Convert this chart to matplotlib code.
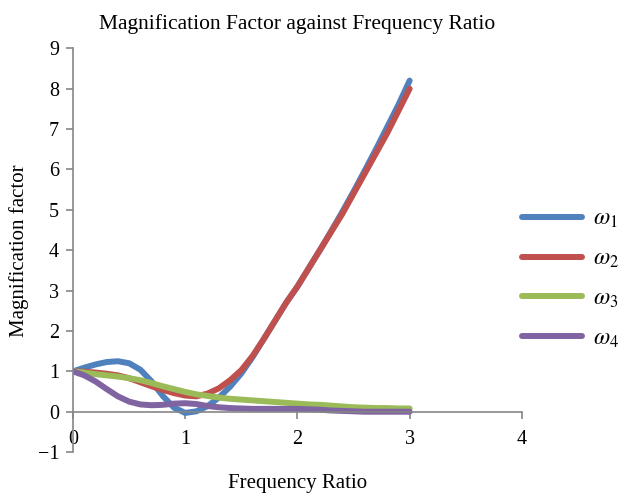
import matplotlib.pyplot as plt
import numpy as np

# frequency ratio samples
ratio = [0.0, 0.1, 0.2, 0.3, 0.4, 0.5, 0.6, 0.7, 0.8, 0.9, 1.0,
         1.1, 1.2, 1.3, 1.4, 1.5, 1.6, 1.7, 1.8, 1.9, 2.0,
         2.1, 2.2, 2.3, 2.4, 2.5, 2.6, 2.7, 2.8, 2.9, 3.0]

# magnification factor, one list per mode
w1 = [1.0, 1.09, 1.17, 1.23, 1.25, 1.2, 1.04, 0.75, 0.39, 0.1, -0.03,
      0.01, 0.14, 0.35, 0.62, 0.95, 1.35, 1.8, 2.25, 2.7, 3.1,
      3.55, 4.0, 4.47, 4.95, 5.45, 5.97, 6.5, 7.05, 7.6, 8.2]
w2 = [1.0, 0.99, 0.97, 0.94, 0.9, 0.83, 0.73, 0.63, 0.54, 0.46, 0.4,
      0.38, 0.45, 0.58, 0.78, 1.03, 1.38, 1.8, 2.25, 2.7, 3.1,
      3.55, 4.0, 4.45, 4.9, 5.4, 5.9, 6.4, 6.9, 7.45, 8.0]
w3 = [1.0, 0.97, 0.93, 0.9, 0.87, 0.83, 0.78, 0.71, 0.63, 0.56, 0.49,
      0.43, 0.39, 0.35, 0.32, 0.3, 0.28, 0.26, 0.24, 0.22, 0.2,
      0.18, 0.17, 0.15, 0.13, 0.11, 0.1, 0.09, 0.09, 0.08, 0.08]
w4 = [1.0, 0.9, 0.75, 0.56, 0.38, 0.25, 0.18, 0.16, 0.17, 0.2, 0.21,
      0.19, 0.14, 0.11, 0.09, 0.08, 0.07, 0.07, 0.07, 0.07, 0.07,
      0.06, 0.05, 0.03, 0.02, 0.01, 0.0, 0.0, 0.0, 0.0, 0.0]

labels = [r'$\omega_1$', r'$\omega_2$', r'$\omega_3$', r'$\omega_4$']
colors = ['#4F81BD', '#C0504D', '#9BBB59', '#8064A2']

plt.rcParams['font.family'] = ['Liberation Serif', 'DejaVu Serif']
plt.rcParams['mathtext.fontset'] = 'stix'

fig = plt.figure(figsize=(6.19, 4.93), dpi=100)
ax = fig.add_axes([0.118, 0.083, 0.725, 0.819])

for ys, lab, c in zip([w1, w2, w3, w4], labels, colors):
    ax.plot(ratio, ys, color=c, lw=4.3, label=lab,
            solid_capstyle='round', solid_joinstyle='round')

ax.set_xlim(0, 4)
ax.set_ylim(-1, 9)
ax.set_xticks(range(0, 5))
ax.set_yticks(range(-1, 10))
ax.set_yticklabels(['\u22121'] + [str(i) for i in range(0, 10)])

axis_gray = '#868686'
ax.spines['top'].set_visible(False)
ax.spines['right'].set_visible(False)
ax.spines['bottom'].set_position(('data', 0))
for s in ['left', 'bottom']:
    ax.spines[s].set_color(axis_gray)
    ax.spines[s].set_linewidth(1.2)
ax.tick_params(colors=axis_gray, length=5, width=1.2, labelsize=14.5,
               labelcolor='black')
ax.tick_params(axis='x', pad=8)
ax.tick_params(axis='y', pad=5)

ax.set_title('Magnification Factor against Frequency Ratio', fontsize=15.5, pad=14)
ax.set_ylabel('Magnification factor', fontsize=15, labelpad=6)
ax.set_xlabel('Frequency Ratio', fontsize=15)
ax.xaxis.set_label_coords(0.5, -0.055)

ax.legend(loc='center left', bbox_to_anchor=(0.828, 0.434), bbox_transform=fig.transFigure,
          frameon=False, fontsize=17, handlelength=2.55, labelspacing=0.76,
          handletextpad=0.45, borderaxespad=0)

fig.savefig('out.png', dpi=100)
